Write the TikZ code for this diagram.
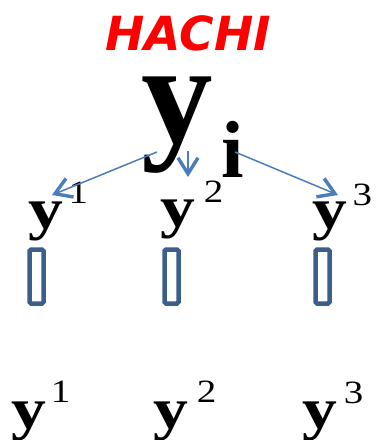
\documentclass[tikz,border=0pt]{standalone}
\usepackage{fontspec}
\setmainfont{Liberation Serif}
\newfontfamily\hachifont{DejaVu Sans}
\usetikzlibrary{arrows.meta}
\definecolor{arrblue}{RGB}{74,126,187}
\definecolor{boxblue}{RGB}{59,94,138}
% #1 kern, #2 raise, #3 digit
\newcommand{\ylab}[3]{{\fontsize{58}{58}\selectfont\bfseries y}\kern#1\raisebox{#2}{\fontsize{32.5}{32.5}\selectfont #3}}
\begin{document}
\begin{tikzpicture}[x=1pt,y=-1pt,
  txt/.style={inner sep=0pt,outer sep=0pt,anchor=base west},
  lab/.style={txt,xscale=1.2},
  arr/.style={draw=arrblue,line width=1.5pt,-{Straight Barb[length=16pt,width=20pt,line width=3.4pt]}},
  bar/.style={draw=boxblue,line width=4.5pt,rounded corners=1.5pt}]
\useasboundingbox (0,0) rectangle (378,440);
% title
\node[inner sep=0pt,anchor=base] (title) at (188,50) {\hachifont\fontsize{47}{47}\selectfont\bfseries\itshape\color{red}HACHI};
% big y_i
\node[txt,text height=66pt,text depth=31pt] (Y) at (141,142) {\fontsize{143}{143}\selectfont\bfseries y};
\node[txt] (I) at (221,177) {\fontsize{81}{81}\selectfont\bfseries i};
% middle labels
\node[lab] (a1) at (28,228.5) {\ylab{4.9pt}{25.5pt}{1}};
\node[lab] (a2) at (160,226.5) {\ylab{7.5pt}{24.5pt}{2}};
\node[lab] (a3) at (312,228.5) {\ylab{4.9pt}{23.5pt}{3}};
% bars
\draw[bar] (29.5,249.5) rectangle (43.5,303.5) node[midway] (b1) {};
\draw[bar] (164.5,249.5) rectangle (178.5,303.5) node[midway] (b2) {};
\draw[bar] (315.5,249.5) rectangle (329.5,303.5) node[midway] (b3) {};
% bottom labels
\node[lab] (c1) at (12,428.5) {\ylab{3.3pt}{26.5pt}{1}};
\node[lab] (c2) at (153,428.5) {\ylab{7.5pt}{26.5pt}{2}};
\node[lab] (c3) at (302,428.5) {\ylab{5.8pt}{25.5pt}{3}};
% arrows
\coordinate (s1) at (157,152);
\coordinate (e1) at (52,195);
\coordinate (s2) at (188,151);
\coordinate (e2) at (188,177);
\coordinate (s3) at (235,152);
\coordinate (e3) at (338,195);
\draw[arr] (s1) -- (e1);
\draw[arr] (s2) -- (e2);
\draw[arr] (s3) -- (e3);
\end{tikzpicture}
\end{document}
